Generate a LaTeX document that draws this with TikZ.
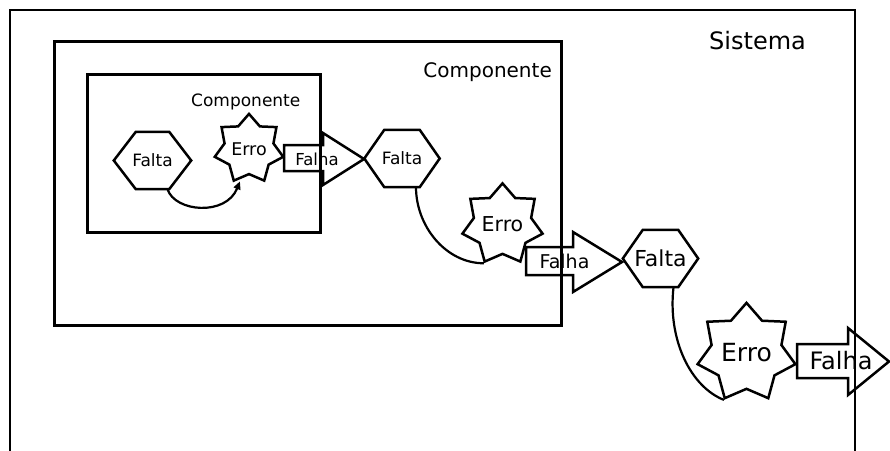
\documentclass[tikz,border=0pt]{standalone}
\usepackage{fontspec}
\setmainfont{DejaVu Sans}
\usetikzlibrary{calc,arrows.meta,shapes.geometric}

% draws a flat-topped hexagon around a rectangular node
\newcommand\hexagonof[2]{%
  \draw[outline] (#1.west) -- ([xshift=#2]#1.north west) -- ([xshift=-#2]#1.north east)
    -- (#1.east) -- ([xshift=-#2]#1.south east) -- ([xshift=#2]#1.south west) -- cycle;}
\newcommand\fsz[1]{\fontsize{#1}{#1}\selectfont}

\begin{document}
\begin{tikzpicture}[x=1pt,y=-1pt,
  frame/.style={draw, line width=3pt},
  sysline/.style={draw, line width=2.6pt},
  outline/.style={draw, line width=2.5pt, line join=miter},
  label/.style={inner sep=0pt, text=black},
  hexnode/.style={rectangle, inner sep=0pt, minimum width=75pt, minimum height=57pt},
  errostar/.style={star, star points=7, star point ratio=1.4, inner sep=0pt, draw, line width=2.5pt},
  link/.style={draw, line width=2.2pt},
]
\useasboundingbox (0,0) rectangle (890,450);

% system, component and sub-component frames
\draw[sysline] (10,452) -- (10,10) -- (855,10) -- (855,452);
\draw[frame] (54,41) rectangle (561,325);
\draw[frame] (87,74) rectangle (320,232);

\node[label, anchor=base west, font=\fsz{24}] (sys) at (709,49.5) {Sistema};
\node[label, anchor=base east, font=\fsz{20}] (compB) at (552,77) {Componente};
\node[label, anchor=base west, font=\fsz{17}] (compA) at (191,106) {Componente};

% faults
\node[hexnode, minimum width=77pt, font=\fsz{17}] (f1) at (152.5,160.5) {Falta};
\hexagonof{f1}{22pt}
\node[hexnode, font=\fsz{17}] (f2) at (402,158.5) {Falta};
\hexagonof{f2}{20pt}
\node[hexnode, font=\fsz{22}] (f3) at (660.5,258.5) {Falta};
\hexagonof{f3}{20pt}

% errors
\node[errostar, minimum size=65pt, font=\fsz{17.5}] (e1) at (249,149) {Erro};
\node[errostar, minimum size=75pt, font=\fsz{20.5}] (e2) at (502.5,224.5) {Erro};
\node[errostar, minimum size=84pt, font=\fsz{25}] (e3) at (746.5,353) {Erro};

% failures
\node[label, font=\fsz{16.5}] (a1) at (317,159) {Falha};
\draw[outline] (284,145) -- (323,145) -- (323,133) -- (364,159) -- (323,185) -- (323,171) -- (284,171) -- cycle;
\node[label, font=\fsz{19}] (a2) at (564.5,261.5) {Falha};
\draw[outline] (526,247) -- (573,247) -- (573,232) -- (622,262) -- (573,292) -- (573,275) -- (526,275) -- cycle;
\node[label, font=\fsz{24}] (a3) at (841,360.5) {Falha};
\draw[outline] (797,344) -- (848,344) -- (848,328) -- (889,361.5) -- (848,395) -- (848,378) -- (797,378) -- cycle;

% fault activates error
\draw[link, -{Triangle[length=8pt,width=7pt]}] ($(f1.south)+(15,0)$)
  .. controls +(7.5,23) and +(-14,35) .. ($(e1.outer point 4)+(7,-1)$);
\draw[link] ($(f2.south)+(14,0)$) .. controls +(0,39) and +(-38,0) .. (e2.outer point 4);
\draw[link] ($(f3.south)+(13,0)$) .. controls +(-6,53) and +(-33,-13) .. (e3.outer point 4);
\end{tikzpicture}
\end{document}
